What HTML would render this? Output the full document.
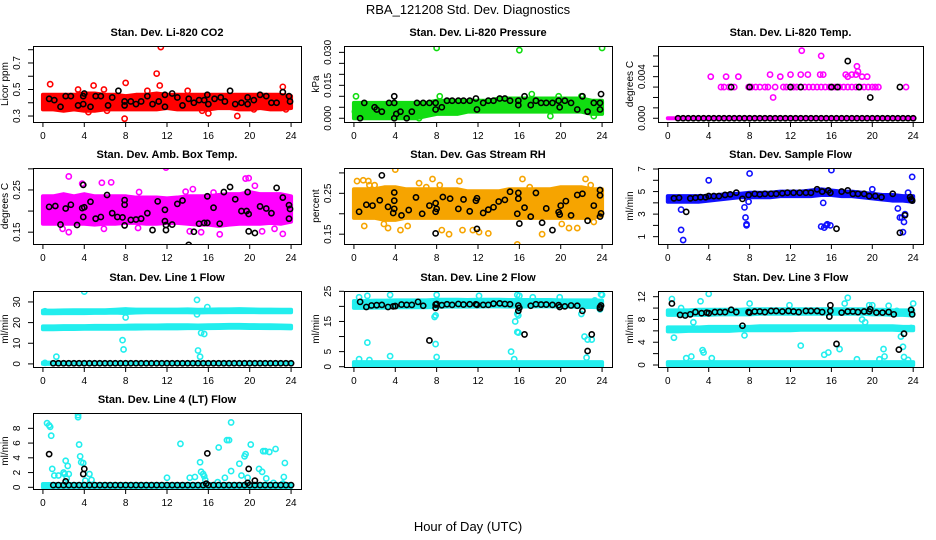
<!DOCTYPE html>
<html><head><meta charset="utf-8"><style>
body{margin:0;background:#fff}
svg{display:block;font-family:"Liberation Sans",sans-serif}
</style></head><body>
<svg id="c" width="936" height="540" viewBox="0 0 936 540">
<text x="468" y="14" text-anchor="middle" font-size="13">RBA_121208  Std. Dev. Diagnostics</text>
<text x="468" y="531" text-anchor="middle" font-size="13">Hour of Day (UTC)</text>
</svg>
<script>
const bandHours=[0,1,2,3,4,5,6,7,8,9,10,11,12,13,14,15,16,17,18,19,20,21,22,23,24];
const baseX=[1,1.5,2,2.5,3,3.5,4,4.5,5,5.5,6,6.5,7,7.5,8,8.5,9,9.5,10,10.5,11,11.5,12,12.5,13,13.5,14,14.5,15,15.5,16,16.5,17,17.5,18,18.5,19,19.5,20,20.5,21,21.5,22,22.5,23,23.5,24];
const xTicks=[0,4,8,12,16,20,24];

// CO2
const co2Lo=[0.35,0.35,0.34,0.35,0.34,0.34,0.35,0.35,0.35,0.35,0.35,0.35,0.36,0.35,0.35,0.35,0.35,0.36,0.36,0.35,0.35,0.36,0.35,0.35,0.36];
const co2Hi=[0.46,0.46,0.46,0.46,0.47,0.47,0.46,0.46,0.45,0.46,0.46,0.47,0.46,0.46,0.46,0.46,0.46,0.46,0.46,0.46,0.46,0.46,0.46,0.46,0.45];
const co2OutX=[0.7,3.4,4.9,5.9,7.9,8.0,10.1,11.0,11.4,11.3,14.0,16.0,18.8,23.2,23.5,2.7,4.4,6.2,15.4,20.4];
const co2OutY=[0.54,0.50,0.53,0.50,0.28,0.55,0.49,0.62,0.82,0.53,0.49,0.32,0.30,0.52,0.35,0.36,0.33,0.34,0.34,0.35];
const co2BlkX=[0.6,1.1,1.7,2.2,2.7,3.4,3.9,3.9,4.0,4.6,5.1,5.6,6.3,6.7,7.3,7.9,7.9,8.5,9.0,9.5,10.1,10.6,11.2,11.8,11.8,12.5,13.0,13.5,14.1,14.6,15.1,15.6,15.9,16.0,16.6,17.2,17.6,18.1,18.6,19.2,19.8,19.8,20.4,21.0,21.6,22.1,22.6,23.2,23.8,23.9];
const co2BlkY=[0.43,0.42,0.37,0.45,0.45,0.38,0.39,0.45,0.47,0.37,0.45,0.45,0.38,0.44,0.49,0.41,0.38,0.41,0.39,0.41,0.45,0.39,0.41,0.46,0.37,0.47,0.44,0.38,0.43,0.40,0.42,0.42,0.46,0.39,0.43,0.44,0.41,0.49,0.39,0.40,0.44,0.39,0.42,0.46,0.45,0.40,0.40,0.48,0.45,0.41];

// Pressure
const prsLo=[0,0,0,0,0,0,0,0.001,0.002,0.002,0.002,0.003,0.003,0.003,0.003,0.003,0.003,0.003,0.003,0.003,0.003,0.003,0.003,0.002,0.002];
const prsHi=[0.007,0.007,0.007,0.007,0.007,0.007,0.007,0.007,0.008,0.008,0.008,0.008,0.008,0.008,0.009,0.009,0.009,0.009,0.009,0.009,0.009,0.009,0.009,0.008,0.008];
const prsOutX=[8,16,24,0.2,8.3,17.2,19.8,22,23.2,19,0.1,6.3];
const prsOutY=[0.032,0.031,0.032,0.010,0.010,0.011,0.010,0.010,0.001,0.001,0.003,0.000];
const prsBlkX=[1,2,2.2,2.7,3.4,3.9,3.9,3.9,4.1,4.5,5.1,5.6,6.1,6.7,7.3,7.9,7.9,8.5,9.0,9.5,10.1,10.6,11.2,11.8,11.9,12.5,13.0,13.5,14.1,14.6,15.1,15.9,15.9,16.5,17.1,17.6,18.1,18.6,19.2,19.8,19.9,20.4,21.0,21.6,22.1,22.6,23.2,23.8,23.9,23.8,0.6];
const prsBlkY=[0.007,0.005,0.004,0.003,0.007,0.007,0.010,0.000,0.002,0.003,0.000,0.003,0.007,0.007,0.007,0.007,0.004,0.005,0.008,0.008,0.008,0.008,0.008,0.009,0.004,0.007,0.008,0.008,0.009,0.009,0.008,0.008,0.006,0.010,0.006,0.008,0.007,0.007,0.007,0.008,0.005,0.008,0.007,0.004,0.010,0.003,0.007,0.007,0.011,0.004,0.000];

// Temp
const tmpLo=[0,0,0,0,0,0,0,0,0,0,0,0,0,0,0,0,0,0,0,0,0,0,0,0,0];
const tmpHi=[0,0,0,0,0,0,0,0,0,0,0,0,0,0,0,0,0,0,0,0,0,0,0,0,0];
const tmpOutX=[5.2,5.5,6.0,6.5,7.9,8.2,8.6,9.0,9.5,9.8,10.5,11.3,11.6,12.0,12.3,12.6,13.0,13.4,13.8,14.2,14.6,15.0,15.4,15.8,16.1,16.4,16.8,17.2,17.6,18.0,18.4,18.8,19.2,19.6,20.0,20.3,20.6,23.3,4.2,5.7,6.9,10.0,10.3,11.0,12.0,13.0,13.1,13.7,14.9,15.2,15.0,17.4,17.6,18.0,18.4,18.5,18.6,19.0,19.5];
const tmpOutY=[0.003,0.003,0.003,0.003,0.003,0.003,0.003,0.003,0.003,0.003,0.003,0.003,0.003,0.003,0.003,0.003,0.003,0.003,0.003,0.003,0.003,0.003,0.003,0.003,0.003,0.003,0.003,0.003,0.003,0.003,0.003,0.003,0.003,0.003,0.003,0.003,0.003,0.003,0.004,0.004,0.004,0.0042,0.002,0.004,0.0042,0.0042,0.0065,0.0042,0.0042,0.0042,0.006,0.0042,0.004,0.0042,0.0042,0.005,0.0045,0.004,0.004];
const tmpBlkX=[6.2,8,12,13,16,16.6,18.7,22.7,17.6,19.8];
const tmpBlkY=[0.003,0.003,0.003,0.003,0.003,0.003,0.003,0.003,0.0055,0.002];

// Amb box temp
const ambLo=[0.17,0.17,0.17,0.17,0.17,0.168,0.17,0.17,0.172,0.172,0.17,0.17,0.172,0.172,0.17,0.168,0.168,0.165,0.168,0.17,0.17,0.17,0.172,0.17,0.175];
const ambHi=[0.235,0.235,0.24,0.235,0.24,0.235,0.235,0.235,0.235,0.232,0.232,0.232,0.23,0.232,0.235,0.235,0.235,0.238,0.24,0.24,0.245,0.24,0.24,0.24,0.235];
const ambOutX=[2.5,2.5,5.7,6.6,11.9,14.5,14.2,15.3,19.6,19.9,17.1,23.2,20.5,1.9,5.9,9.2,3.8,22.4,21.2,13.8,9.3,16.5];
const ambOutY=[0.282,0.150,0.267,0.268,0.303,0.252,0.152,0.150,0.277,0.278,0.145,0.146,0.260,0.158,0.158,0.160,0.265,0.158,0.152,0.246,0.245,0.244];
const ambBlkX=[0.6,1.2,1.7,2.2,2.7,3.3,3.9,3.8,4.0,3.9,4.6,5.1,5.6,6.2,6.7,7.2,7.7,7.9,7.9,7.9,8.5,9.0,9.5,10.1,10.6,11.1,11.8,11.8,11.9,11.9,12.5,13.0,13.5,14.1,14.6,15.1,15.6,15.9,15.9,16.5,17.1,17.5,18.1,18.6,19.2,19.7,19.9,19.8,19.9,20.5,21.0,21.6,22.1,22.6,23.2,23.8,23.9,23.8];
const ambBlkY=[0.210,0.212,0.168,0.206,0.215,0.167,0.262,0.207,0.209,0.186,0.222,0.182,0.186,0.238,0.195,0.186,0.185,0.226,0.215,0.166,0.179,0.180,0.182,0.195,0.155,0.223,0.176,0.203,0.167,0.155,0.168,0.217,0.225,0.120,0.151,0.170,0.172,0.172,0.235,0.208,0.170,0.245,0.257,0.228,0.200,0.200,0.193,0.245,0.152,0.148,0.211,0.206,0.195,0.255,0.232,0.214,0.205,0.182];

// Gas RH
const rhLo=[0.19,0.19,0.19,0.185,0.185,0.19,0.19,0.19,0.19,0.19,0.19,0.19,0.19,0.19,0.19,0.19,0.19,0.19,0.19,0.19,0.19,0.19,0.19,0.19,0.195];
const rhHi=[0.26,0.26,0.26,0.265,0.265,0.26,0.26,0.26,0.26,0.26,0.26,0.255,0.255,0.255,0.255,0.26,0.26,0.26,0.26,0.26,0.265,0.265,0.265,0.26,0.26];
const rhOutX=[0.3,0.9,1.4,1.5,2.0,4.0,3.3,5.2,4.5,6.3,7.0,7.6,8.3,10.2,8.5,11.5,12.1,13.0,15.8,16.3,17.0,18.2,20.1,20.8,21.6,22.4,22.9,23.2,9.2,10.5,1.0,2.9];
const rhOutY=[0.28,0.282,0.28,0.27,0.27,0.308,0.165,0.17,0.16,0.275,0.265,0.285,0.27,0.28,0.16,0.16,0.155,0.152,0.125,0.285,0.265,0.15,0.175,0.165,0.165,0.285,0.27,0.18,0.15,0.16,0.17,0.175];
const rhBlkX=[0.5,1.2,1.8,2.5,2.7,3.3,3.9,3.9,3.9,3.8,4.6,5.3,6.0,6.6,7.3,7.9,8.0,7.9,7.9,8.6,9.3,10.1,10.6,11.2,11.8,11.9,11.9,12.5,13.0,13.5,14.0,14.6,15.1,15.9,15.9,15.8,16.0,16.5,17.1,17.6,18.2,18.6,19.2,19.8,19.9,20.0,20.5,21.0,21.6,22.1,22.6,23.2,23.8,23.8,23.9,23.8];
const rhBlkY=[0.205,0.222,0.220,0.233,0.294,0.217,0.252,0.232,0.212,0.202,0.196,0.209,0.240,0.200,0.220,0.226,0.212,0.205,0.152,0.241,0.237,0.212,0.235,0.206,0.232,0.238,0.163,0.202,0.210,0.216,0.230,0.234,0.254,0.251,0.237,0.200,0.176,0.215,0.193,0.251,0.178,0.213,0.160,0.204,0.198,0.220,0.231,0.196,0.246,0.249,0.183,0.220,0.258,0.245,0.201,0.193];

// Sample flow
const sfLo=[4.1,4.1,4.1,4.1,4.2,4.3,4.4,4.5,4.5,4.5,4.5,4.6,4.6,4.6,4.6,4.7,4.7,4.6,4.6,4.5,4.4,4.3,4.2,4.2,4.1];
const sfHi=[4.6,4.6,4.6,4.6,4.6,4.7,4.8,4.8,4.9,4.9,4.9,5.0,5.0,5.0,5.1,5.2,5.1,5.0,5.0,4.9,4.8,4.7,4.7,4.6,4.6];
const sfOutX=[4.0,8.0,16.0,23.9,1.3,1.3,1.5,7.5,7.6,7.7,7.7,7.9,15.2,15.0,15.3,15.5,15.6,15.9,22.5,22.7,22.9,23.2,23.1,23.0,20.0,23.5];
const sfOutY=[6.0,6.6,6.9,6.3,3.4,1.6,0.7,3.6,2.7,2.0,2.1,4.1,4.0,1.9,1.8,2.0,2.1,2.0,3.5,2.7,2.7,3.0,2.3,1.4,5.2,4.9];
const sfBlkX=[0.6,1.1,1.8,2.2,2.7,3.2,3.7,4.0,4.5,5.0,5.6,6.1,6.7,7.3,7.9,8.5,9.0,9.5,10.1,10.6,11.2,11.7,12.3,12.9,13.5,14.0,14.6,15.1,15.7,15.9,16.5,17.0,17.6,18.1,18.6,19.2,19.7,20.3,20.9,22.0,22.7,23.2,23.7,23.8,23.9];
const sfBlkY=[4.4,4.45,3.2,4.4,4.45,4.5,4.5,4.6,4.6,4.6,4.7,4.75,4.9,4.35,4.7,4.8,4.75,4.8,4.8,4.8,4.85,4.9,4.9,4.9,4.9,4.9,5.2,5.0,5.1,4.9,1.7,5.0,5.1,4.8,4.8,4.8,4.6,4.6,4.5,4.8,1.35,2.9,4.5,4.3,4.2];

// Line 1
const l1TopLo=[24.5,24.5,24.6,24.6,24.6,24.7,24.7,24.8,24.6,24.9,25,25,25,25,25,24.9,25,25,25.1,25.1,25.1,25,25,25,25];
const l1TopHi=[25.8,25.8,25.9,26,26,26,26,26.2,26.5,26.3,26.3,26.3,26.3,26.3,26.4,26.2,26.3,26.4,26.4,26.5,26.4,26.3,26.3,26.2,26.2];
const l1MidLo=[16.8,16.8,16.9,16.9,17,17,17,17,17.1,17.1,17.2,17.2,17.2,17.2,17.3,17.3,17.3,17.4,17.5,17.5,17.4,17.4,17.3,17.3,17.2];
const l1MidHi=[18.2,18.2,18.3,18.3,18.3,18.4,18.4,18.4,18.5,18.6,18.6,18.6,18.7,18.7,18.7,18.6,18.7,18.8,18.9,18.9,18.8,18.7,18.7,18.6,18.5];
const l1BaseLo=[0,0,0,0,0,0,0,0,0,0,0,0,0,0,0,0,0,0,0,0,0,0,0,0,0];
const l1BaseHi=[0.6,0.6,0.6,0.6,0.6,0.6,0.6,0.6,0.6,0.6,0.6,0.6,0.6,0.6,0.6,0.6,0.6,0.6,0.6,0.6,0.6,0.6,0.6,0.6,0.6];
const l1OutX=[4,14.9,7.7,7.8,15.0,15.2,15.3,15.6,1.3,0.2,8,15.9,14.9,0.2];
const l1OutY=[35,31,11.5,7,6.5,3.5,15,14.5,3.5,0.5,22.5,27.5,24,25.5];

// Line 2
const l2TopLo=[19.5,19.5,19.6,19.6,19.7,19.7,19.7,19.7,19.8,19.9,19.9,19.9,19.9,20,20,19.9,19.9,20,20,20,19.9,19.9,19.8,19.8,19.7];
const l2TopHi=[21.8,21.8,21.9,21.9,22,22,22,22,22.2,22.2,22.2,22.1,22.2,22.2,22.2,22.1,22.1,22.1,22.1,22.1,22,22,22,22,21.9];
const l2BaseLo=[0.3,0.3,0.3,0.3,0.3,0.3,0.3,0.3,0.3,0.3,0.3,0.3,0.3,0.3,0.3,0.3,0.3,0.3,0.3,0.3,0.3,0.3,0.3,0.3,0.3];
const l2BaseHi=[1.5,1.5,1.5,1.5,1.5,1.5,1.5,1.5,1.5,1.5,1.5,1.5,1.5,1.5,1.5,1.5,1.5,1.5,1.5,1.5,1.5,1.5,1.5,1.5,1.5];
const l2OutX=[0.5,1.3,3.5,8.0,12.1,15.8,16,17.3,19.9,24,1.3,7.8,7.9,7.9,8,15.9,15.6,15.8,15.9,15.8,15.2,15.5,3.5,0.5,1.5,22.3,22.6,23,22.5,23.9,22.0,23.8,23.3];
const l2OutY=[23,23.5,23.8,23.8,23.5,23.8,23.5,23,23,23.8,8,16.5,17,7.5,3.2,17,15,11.5,11.3,17.5,5,2.5,3.5,2.5,2.2,10,9,9,3,24,17.5,19,22];
const l2BlkX=[0.6,1.2,1.7,2.2,2.7,3.3,3.8,4.0,4.6,5.1,5.6,6.2,6.7,7.3,7.9,7.9,8.0,8.5,9.0,9.5,10.1,10.6,11.2,11.8,11.9,12.5,13.0,13.5,14.1,14.6,15.1,15.9,15.9,16.0,16.5,17.1,17.6,18.1,18.6,19.2,19.8,19.9,20.4,21.0,21.6,22.1,22.6,23.0,23.8,23.9,23.8];
const l2BlkY=[21.5,19.8,20.3,20.4,20.5,19.8,20,20.1,20.6,20.5,20.5,21.5,20.2,8.7,20.6,19.5,20.8,20.4,20.7,20.5,20.8,20.6,20.7,20.7,20.5,20.5,20.5,20.9,21,20.8,20.7,20.3,18.5,19.5,10.7,20.2,20.7,20.6,20.6,20.5,20.4,19.8,20,20.3,20.2,18.5,5.2,10.7,19.3,20.3,19.8];

// Line 3
const l3TopLo=[8.8,8.8,8.8,8.8,8.8,8.9,8.9,8.9,8.9,9,9,9,9,9,9,9,9,9,9,9,8.9,8.9,8.8,8.8,8.7];
const l3TopHi=[9.6,9.6,9.6,9.7,9.7,9.7,9.7,9.7,9.8,9.8,9.8,9.8,9.8,9.8,9.8,9.8,9.8,9.8,9.8,9.8,9.7,9.7,9.6,9.6,9.6];
const l3MidLo=[5.9,5.9,6,6,6,6,6,6.1,6.1,6.1,6.1,6.1,6.1,6.2,6.2,6.2,6.2,6.2,6.2,6.2,6.2,6.2,6.2,6.1,6.1];
const l3MidHi=[6.6,6.6,6.6,6.6,6.7,6.7,6.7,6.7,6.7,6.8,6.8,6.8,6.8,6.8,6.8,6.8,6.8,6.8,6.8,6.8,6.8,6.8,6.8,6.7,6.7];
const l3BaseLo=[0,0,0,0,0,0,0,0,0,0,0,0,0,0,0,0,0,0,0,0,0,0,0,0,0];
const l3BaseHi=[0.5,0.5,0.5,0.5,0.5,0.5,0.5,0.5,0.5,0.5,0.5,0.5,0.5,0.5,0.5,0.5,0.5,0.5,0.5,0.5,0.5,0.5,0.5,0.5,0.5];
const l3OutX=[0.4,0.6,1.3,1.8,2.3,2.5,3.2,3.4,3.5,4.0,4.3,7.5,8,11.9,13.0,15.3,15.7,16.8,17.3,17.6,18.5,19.0,19.3,19.7,20.0,20.7,21.1,21.2,21.6,22.4,22.8,23.0,23.1,23.5,23.8,24];
const l3OutY=[11.6,4.8,10,1.2,1.5,7.5,11.2,2.6,2.2,12.5,1.2,5.2,10.8,10.5,3.4,1.8,2.2,2.8,10.8,11.8,1.0,8,7.5,10.5,10.5,1.0,2.8,1.5,10.4,9.5,5,3.2,1.4,0.9,6.5,10.8];
const l3BlkX=[0.4,1.2,1.7,2.2,2.7,3.3,3.8,4.0,4.6,5.1,5.6,6.2,6.7,7.3,7.9,8.0,8.5,9.0,9.5,10.1,10.6,11.2,11.8,12.3,12.8,13.5,14.0,14.6,15.1,15.9,15.8,15.9,16.5,17.0,17.6,18.1,18.6,19.2,19.7,19.8,20.4,21.0,21.6,22.1,22.6,23.1,23.8,23.9];
const l3BlkY=[10.8,8.8,8.7,8.9,9.3,9.1,9.2,9.1,9.3,9.3,9.3,9.7,9.3,6.9,9.3,9.2,9.4,9.4,9.3,9.5,9.5,9.4,9.5,9.4,9.3,9.5,9.5,9.5,9.3,10.5,8.5,9.5,3.7,9.2,9.4,9.4,9.3,9.4,9.4,9.8,9.2,9.2,9.3,8.9,2.7,5.5,9.7,8.9];

// Line 4
const l4BaseLo=[0,0,0,0,0,0,0,0,0,0,0,0,0,0,0,0,0,0,0,0,0,0,0,0,0];
const l4BaseHi=[0.45,0.45,0.45,0.45,0.45,0.45,0.45,0.45,0.45,0.45,0.45,0.45,0.45,0.45,0.45,0.45,0.45,0.45,0.45,0.45,0.45,0.45,0.45,0.45,0.45];
const l4OutX=[0.4,0.6,0.7,0.8,0.9,1.1,1.5,2.0,2.1,2.2,2.4,2.5,2.3,3.4,3.4,3.5,3.6,3.7,3.9,4.1,4.5,4.7,12.0,13.3,14.2,14.7,15.2,15.3,15.5,15.6,15.7,16.9,17.0,17.6,17.8,18.0,18.2,18.2,19.0,19.2,19.5,19.6,19.8,20.1,20.9,21.2,21.3,21.5,21.6,21.9,22.5,22.3,23.3,23.4,23.2];
const l4OutY=[8.7,8.4,8.2,7,2.5,1.6,1.6,2,1.8,3.6,2.9,1.8,1.2,9.8,9.5,5.8,4.2,3.4,3.3,0.9,1.8,1,1.3,5.9,1.3,1.4,3.4,2.1,1.8,1.5,1,0.7,5.4,1.3,6.4,6.4,8.8,2.2,3.2,1.6,4.2,4.5,1.3,5.8,2.5,2.1,4.9,4.9,1.2,4.8,5.2,0.6,1.4,3.3,0.5];
const l4BlkX=[0.6,2.2,3.9,4.0,15.9,15.8,19.9,19.8,20.5];
const l4BlkY=[4.5,0.8,1.8,2.5,4.6,0.5,2.5,0.6,0.9];

const baseY03=baseX.map(()=>0.3);
const baseY0=baseX.map(()=>0);

const NS='http://www.w3.org/2000/svg';
const svg=document.getElementById('c');
const colL=[33,344,658], colW=[268,268,265], rowT=[46,168,291,413], H=76;
function mk(tag,attrs,parent){const e=document.createElementNS(NS,tag);for(const k in attrs)e.setAttribute(k,attrs[k]);(parent||svg).appendChild(e);return e;}

function panel(p){
  const L=colL[p.col],W=colW[p.col],T=rowT[p.row];
  const g=mk('g',{});
  
  
  const xs=h=>L+(h+0.96)/25.92*W;
  const ys=v=>T+H-(v-p.ymin)/(p.ymax-p.ymin)*H;
  const clip=mk('clipPath',{id:'cl'+p.name},g);
  mk('rect',{x:L,y:T,width:W,height:H},clip);
  const pg=mk('g',{'clip-path':'url(#cl'+p.name+')'},g);
  (p.bands||[]).forEach((b,i)=>{
    let pts=bandHours.map((h,j)=>xs(h)+','+ys(b.hi[j]));
    pts=pts.concat(bandHours.map((h,j)=>xs(h)+','+ys(b.lo[j])).reverse());
    const poly=mk('polygon',{points:pts.join(' '),fill:b.fill,stroke:b.fill,'stroke-width':4,'stroke-linejoin':'round'},pg);
    
    
  });
  (p.pts||[]).forEach(s=>{
    s.x.forEach((h,j)=>{
      const c=mk('circle',{cx:xs(h),cy:ys(s.y[j]),r:2.6,fill:'none',stroke:s.color,'stroke-width':1.6},pg);
      
      
    });
  });
  const box=mk('rect',{x:L+0.5,y:T+0.5,width:W,height:H,fill:'none',stroke:'#000','stroke-width':1},g);
  
  
  const t=mk('text',{x:L+W/2,y:T-10,'text-anchor':'middle','font-size':11,'font-weight':'bold'},g);
  t.textContent=p.title;
  
  
  mk('line',{x1:xs(0),x2:xs(24),y1:T+H+0.5,y2:T+H+0.5,stroke:'#000'},g);
  xTicks.forEach(h=>{
    mk('line',{x1:xs(h),x2:xs(h),y1:T+H,y2:T+H+5,stroke:'#000'},g);
    const tl=mk('text',{x:xs(h),y:T+H+17,'text-anchor':'middle','font-size':10},g);
    tl.textContent=h;
    
    
  });
  p.yticks.forEach(v=>{mk('line',{x1:L-5,x2:L,y1:ys(v),y2:ys(v),stroke:'#000'},g);});
  p.ylabels.forEach(v=>{
    const yy=ys(parseFloat(v));
    const tl=mk('text',{x:L-13,y:yy,'text-anchor':'middle','font-size':10,transform:'rotate(-90 '+(L-13)+' '+yy+')'},g);
    tl.textContent=v;
    
    
  });
  const yt=mk('text',{x:L-25,y:T+H/2,'text-anchor':'middle','font-size':10,transform:'rotate(-90 '+(L-25)+' '+(T+H/2)+')'},g);
  yt.textContent=p.ytitle;
  
  
}
const R='#ff0000',G='#11dd11',M='#ff00ff',B='#1010ff',C='#22eeee',K='#000000',O='#f6a400';
panel({name:'co2',col:0,row:0,title:'Stan. Dev. Li-820 CO2',ytitle:'Licor ppm',ymin:0.255,ymax:0.828,yticks:[0.3,0.4,0.5,0.6,0.7,0.8],ylabels:['0.3','0.5','0.7'],
 bands:[{lo:co2Lo,hi:co2Hi,fill:R}],pts:[{x:co2OutX,y:co2OutY,color:R},{x:co2BlkX,y:co2BlkY,color:K}]});
panel({name:'pressure',col:1,row:0,title:'Stan. Dev. Li-820 Pressure',ytitle:'kPa',ymin:-0.0017,ymax:0.0329,yticks:[0,0.005,0.01,0.015,0.02,0.025,0.03],ylabels:['0.000','0.015','0.030'],
 bands:[{lo:prsLo,hi:prsHi,fill:G}],pts:[{x:prsOutX,y:prsOutY,color:G},{x:prsBlkX,y:prsBlkY,color:K}]});
panel({name:'temp',col:2,row:0,title:'Stan. Dev. Li-820 Temp.',ytitle:'degrees C',ymin:-0.00036,ymax:0.00695,yticks:[0,0.001,0.002,0.003,0.004,0.005,0.006],ylabels:['0.000','0.004'],
 bands:[{lo:tmpLo,hi:tmpHi,fill:M}],pts:[{x:tmpOutX,y:tmpOutY,color:M},{x:baseX,y:baseY0,color:K},{x:tmpBlkX,y:tmpBlkY,color:K}]});
panel({name:'amb-temp',col:0,row:1,title:'Stan. Dev. Amb. Box Temp.',ytitle:'degrees C',ymin:0.122,ymax:0.302,yticks:[0.15,0.2,0.25,0.3],ylabels:['0.15','0.25'],
 bands:[{lo:ambLo,hi:ambHi,fill:M}],pts:[{x:ambOutX,y:ambOutY,color:M},{x:ambBlkX,y:ambBlkY,color:K}]});
panel({name:'gas-rh',col:1,row:1,title:'Stan. Dev. Gas Stream RH',ytitle:'percent',ymin:0.126,ymax:0.312,yticks:[0.15,0.2,0.25,0.3],ylabels:['0.15','0.25'],
 bands:[{lo:rhLo,hi:rhHi,fill:O}],pts:[{x:rhOutX,y:rhOutY,color:O},{x:rhBlkX,y:rhBlkY,color:K}]});
panel({name:'sample-flow',col:2,row:1,title:'Stan. Dev. Sample Flow',ytitle:'ml/min',ymin:0.35,ymax:7.09,yticks:[1,2,3,4,5,6,7],ylabels:['1','3','5','7'],
 bands:[{lo:sfLo,hi:sfHi,fill:B}],pts:[{x:sfOutX,y:sfOutY,color:B},{x:sfBlkX,y:sfBlkY,color:K}]});
panel({name:'line1',col:0,row:2,title:'Stan. Dev. Line 1 Flow',ytitle:'ml/min',ymin:-1.5,ymax:35.3,yticks:[0,10,20,30],ylabels:['0','10','20','30'],
 bands:[{lo:l1TopLo,hi:l1TopHi,fill:C},{lo:l1MidLo,hi:l1MidHi,fill:C},{lo:l1BaseLo,hi:l1BaseHi,fill:C}],pts:[{x:l1OutX,y:l1OutY,color:C},{x:baseX,y:baseY03,color:K}]});
panel({name:'line2',col:1,row:2,title:'Stan. Dev. Line 2 Flow',ytitle:'ml/min',ymin:-0.1,ymax:25.1,yticks:[0,5,10,15,20,25],ylabels:['0','5','15','25'],
 bands:[{lo:l2TopLo,hi:l2TopHi,fill:C},{lo:l2BaseLo,hi:l2BaseHi,fill:C}],pts:[{x:l2OutX,y:l2OutY,color:C},{x:l2BlkX,y:l2BlkY,color:K}]});
panel({name:'line3',col:2,row:2,title:'Stan. Dev. Line 3 Flow',ytitle:'ml/min',ymin:-0.35,ymax:13.0,yticks:[0,2,4,6,8,10,12],ylabels:['0','4','8','12'],
 bands:[{lo:l3TopLo,hi:l3TopHi,fill:C},{lo:l3MidLo,hi:l3MidHi,fill:C},{lo:l3BaseLo,hi:l3BaseHi,fill:C}],pts:[{x:l3OutX,y:l3OutY,color:C},{x:l3BlkX,y:l3BlkY,color:K}]});
panel({name:'line4',col:0,row:3,title:'Stan. Dev. Line 4 (LT) Flow',ytitle:'ml/min',ymin:-0.23,ymax:10.08,yticks:[0,2,4,6,8],ylabels:['0','2','4','6','8'],
 bands:[{lo:l4BaseLo,hi:l4BaseHi,fill:C}],pts:[{x:l4OutX,y:l4OutY,color:C},{x:baseX,y:baseY03,color:K},{x:l4BlkX,y:l4BlkY,color:K}]});
</script>
</body></html>
